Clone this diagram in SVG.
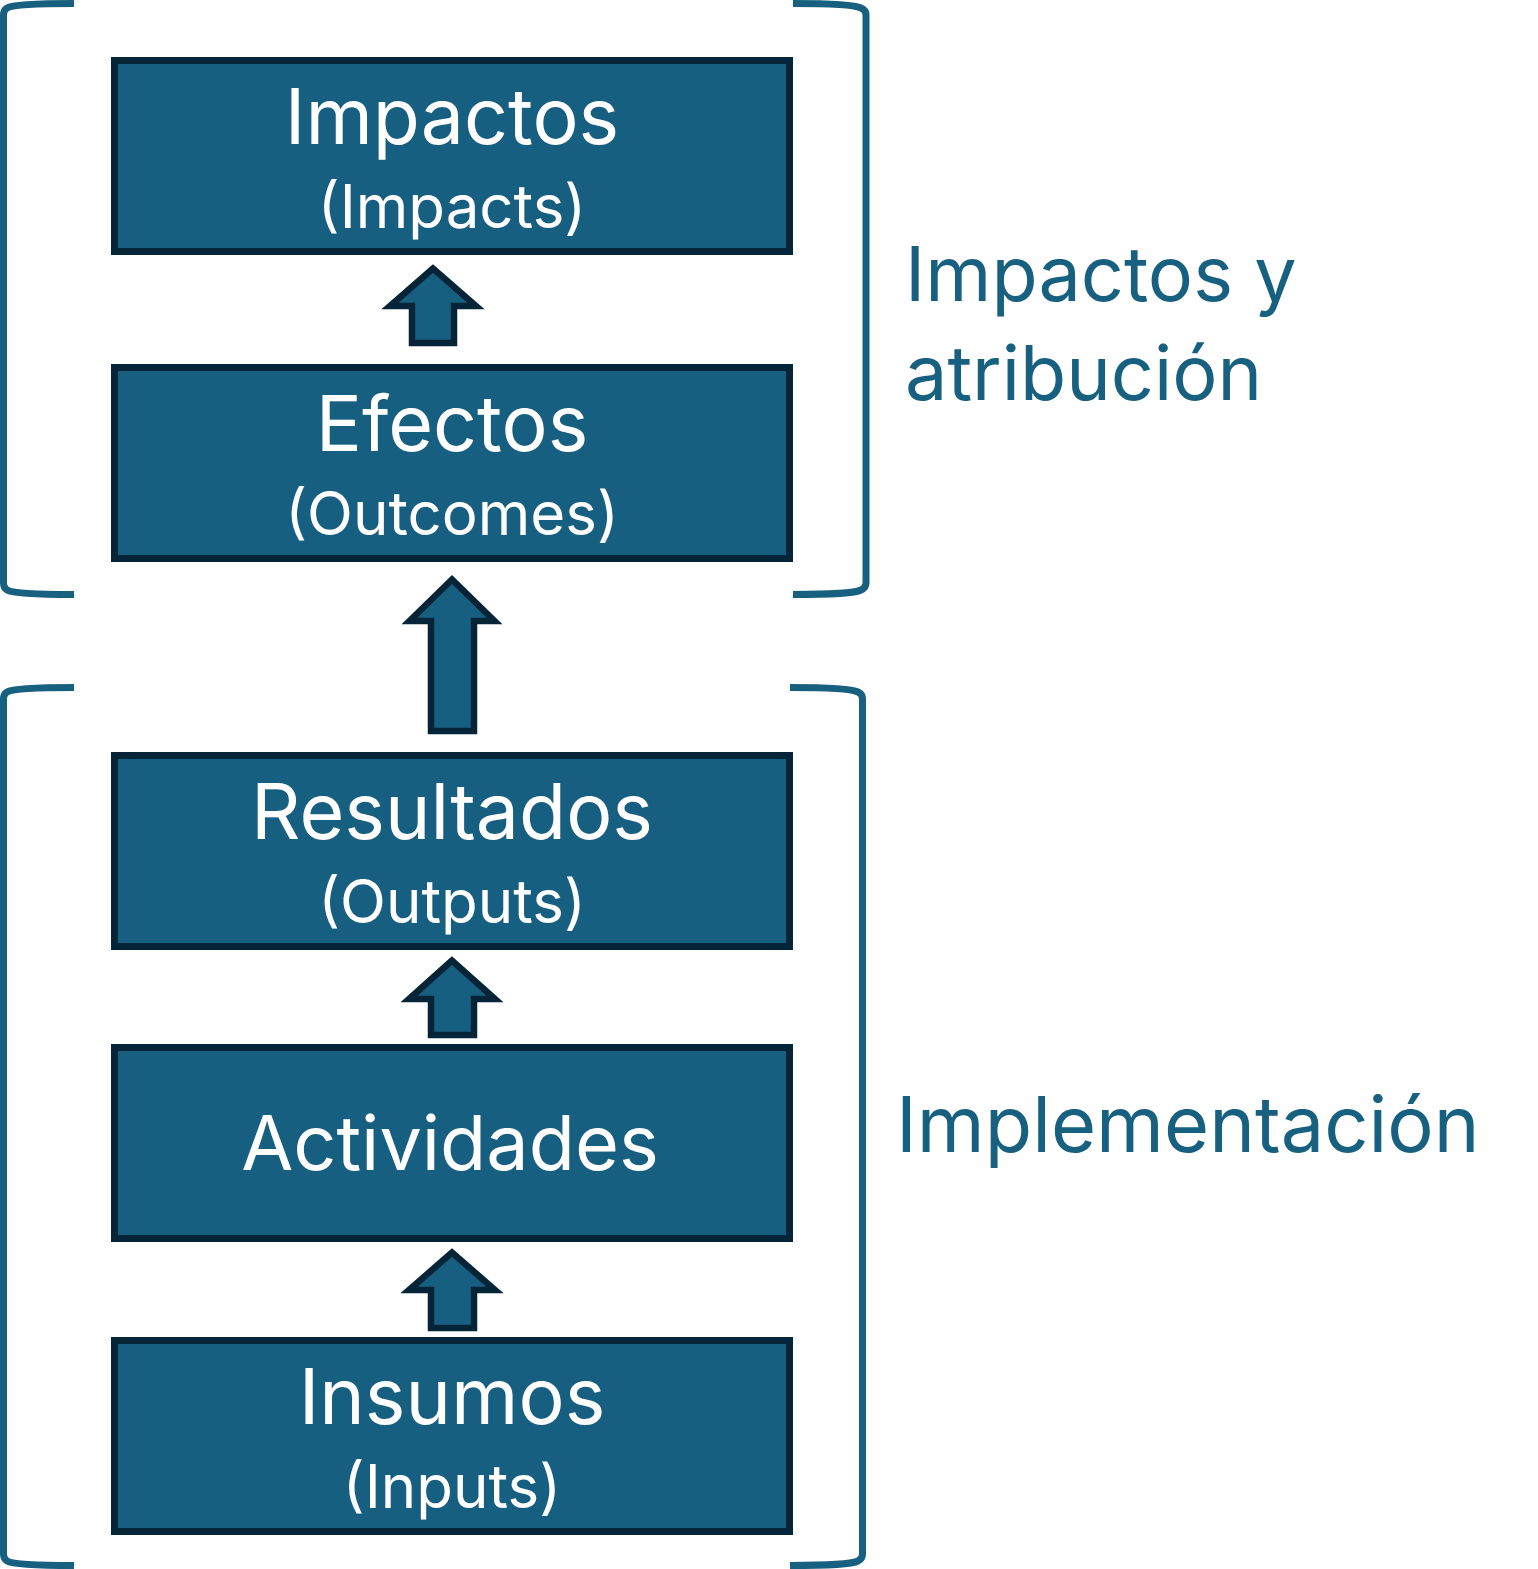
<svg xmlns="http://www.w3.org/2000/svg" width="1538" height="1569" viewBox="0 0 1538 1569">
<style>
.box{fill:#175F80;stroke:#062437;stroke-width:7}
.arr{fill:#175F80;stroke:#062437;stroke-width:6.5;stroke-linejoin:miter}
.br{fill:none;stroke:#17607F;stroke-width:7}
.t{font-family:Inter,"Open Sans",sans-serif;fill:#ffffff;text-anchor:middle}
.big{font-size:77px}
.sub{font-size:60px}
.side{font-family:Inter,"Open Sans",sans-serif;fill:#17607F;font-size:77px}
</style>
<rect width="1538" height="1569" fill="#ffffff"/>
<g id="brackets">
<path class="br" d="M74,3.5 C40,3.5 12,5 7,8 Q3.5,10 3.5,15 V583 Q3.5,588 7,590 C12,593 40,594.5 74,594.5"/>
<path class="br" d="M793,3.5 C827,3.5 855,5 861,8 Q866,10 866,15 V583 Q866,588 861,590 C855,593 827,594.5 793,594.5"/>
<path class="br" d="M74,687.5 C40,687.5 12,689 7,692 Q3.5,694 3.5,699 V1554 Q3.5,1559 7,1561 C12,1564 40,1565.5 74,1565.5"/>
<path class="br" d="M790,687.5 C824,687.5 852,689 858,692 Q862.5,694 862.5,699 V1554 Q862.5,1559 858,1561 C852,1564 824,1565.5 790,1565.5"/>
</g>
<g id="connectors">
<path class="arr" d="M433,268.5 L390,306 H412 V343 H454 V306 H476 Z"/>
<path class="arr" d="M452,579.5 L409.5,621 H431 V731 H474 V621 H494.5 Z"/>
<path class="arr" d="M452,960.5 L409,999 H431 V1035 H474 V999 H495 Z"/>
<path class="arr" d="M452,1252.5 L409,1290 H431 V1328 H474 V1290 H495 Z"/>
</g>
<g id="impactos">
<rect class="box" x="114.5" y="60.5" width="675" height="191"/>
<text class="t big" x="452" y="144">Impactos</text>
<text class="t sub" x="452" y="228">(Impacts)</text>
</g>
<g id="efectos">
<rect class="box" x="114.5" y="367.5" width="675" height="191"/>
<text class="t big" x="452" y="451">Efectos</text>
<text class="t sub" x="452" y="535">(Outcomes)</text>
</g>
<g id="resultados">
<rect class="box" x="114.5" y="755.5" width="675" height="191"/>
<text class="t big" x="452" y="839">Resultados</text>
<text class="t sub" x="452" y="923">(Outputs)</text>
</g>
<g id="actividades">
<rect class="box" x="114.5" y="1047.5" width="675" height="191"/>
<text class="t big" x="450" y="1170" style="font-size:75.5px">Actividades</text>
</g>
<g id="insumos">
<rect class="box" x="114.5" y="1340.5" width="675" height="191"/>
<text class="t big" x="452" y="1424">Insumos</text>
<text class="t sub" x="452" y="1508">(Inputs)</text>
</g>
<g id="label-impactos">
<text class="side" x="905" y="301" style="font-size:75.5px">Impactos y</text>
<text class="side" x="905" y="400" style="font-size:75.5px">atribución</text>
</g>
<g id="label-implementacion">
<text class="side" x="896" y="1152" style="font-size:77.5px">Implementación</text>
</g>
</svg>
